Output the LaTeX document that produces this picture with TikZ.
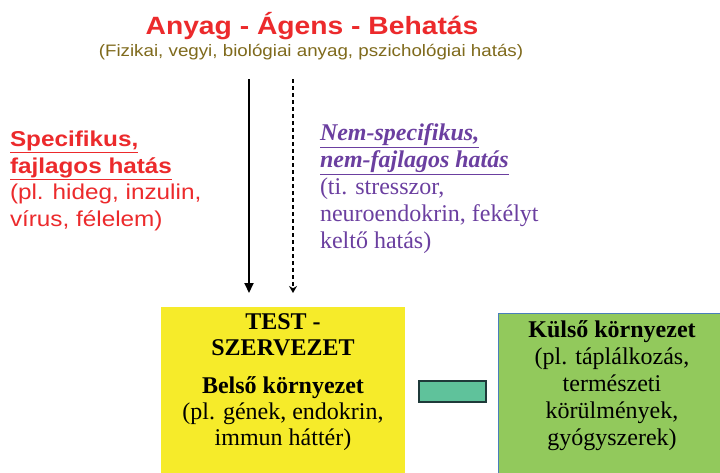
\documentclass[tikz,border=0pt]{standalone}
\usepackage{fontspec}
\setmainfont{Liberation Serif}
\newfontfamily\asans[FakeStretch=1.13]{Liberation Sans}
\usetikzlibrary{arrows.meta}
\definecolor{titlered}{HTML}{EC2A2C}
\definecolor{olivetxt}{HTML}{7F6A1C}
\definecolor{purp}{HTML}{6B3FA0}
\definecolor{ybox}{HTML}{F6EB2A}
\definecolor{gbox}{HTML}{92C95C}
\definecolor{gborder}{HTML}{4A7EBB}
\definecolor{tealfill}{HTML}{5FC29B}
\definecolor{tealline}{HTML}{1F3A3A}
\begin{document}
\begin{tikzpicture}[x=1pt,y=-1pt,
  every node/.style={inner sep=0pt, outer sep=0pt},
  redtxt/.style={text=titlered, font=\asans\fontsize{21.5}{26.5}\selectfont, align=left, anchor=north west},
  purtxt/.style={text=purp, font=\fontsize{24}{27}\selectfont, align=left, anchor=north west},
  boxtxt/.style={text=black, font=\fontsize{24}{26}\selectfont, align=center, anchor=north},
  solidarrow/.style={line width=2pt, -{Triangle[width=9pt,length=10pt]}},
  dasharrow/.style={line width=2pt, dash pattern=on 4pt off 3pt, -{Stealth[width=8pt,length=7pt]}}
]
\useasboundingbox (0,0) rectangle (720,472);
\fill[white] (0,0) rectangle (720,472);
% boxes
\node[fill=ybox, minimum width=244pt, minimum height=170pt, anchor=north west] (test) at (161,307) {};
\node[fill=gbox, draw=gborder, line width=0.8pt, minimum width=224pt, minimum height=165pt, anchor=north west] (kulso) at (498,313) {};
\node[fill=tealfill, draw=tealline, line width=1.2pt, minimum width=67pt, minimum height=21pt, anchor=north west] (link) at (419,381) {};
\useasboundingbox (0,0) rectangle (720,472);
% title
\node[anchor=base, text=titlered, font=\asans\bfseries\fontsize{25}{28}\selectfont] (title) at (312,34) {Anyag - Ágens - Behatás};
\node[anchor=base, text=olivetxt, font=\asans\fontsize{16.6}{19}\selectfont] (sub) at (311,56) {(Fizikai, vegyi, biológiai anyag, pszichológiai hatás)};
% side texts
\node[redtxt] (spec) at (10,131) {\textbf{\underline{Specifikus,}}\\\textbf{\underline{fajlagos hatás}}\\(pl. hideg, inzulin,\\vírus, félelem)};
\node[purtxt] (nspec) at (320,124) {\textbf{\textit{\underline{Nem-specifikus,}}}\\\textbf{\textit{\underline{nem-fajlagos hatás}}}\\(ti. stresszor,\\neuroendokrin, fekélyt\\keltő hatás)};
% arrows
\coordinate (s1) at (249,79);
\coordinate (e1) at (249,293);
\coordinate (s2) at (293,79);
\coordinate (e2) at (293,293);
\draw[solidarrow] (s1) -- (e1);
\draw[dasharrow] (s2) -- (e2);
% box texts
\node[boxtxt] (testtxt) at (283,314) {\textbf{TEST -}\\\textbf{SZERVEZET}\\[12pt]\textbf{Belső környezet}\\(pl. gének, endokrin,\\immun háttér)};
\node[boxtxt, font=\fontsize{24}{27}\selectfont] (kulsotxt) at (612,321) {\textbf{Külső környezet}\\(pl. táplálkozás,\\természeti\\körülmények,\\gyógyszerek)};
\end{tikzpicture}
\end{document}
